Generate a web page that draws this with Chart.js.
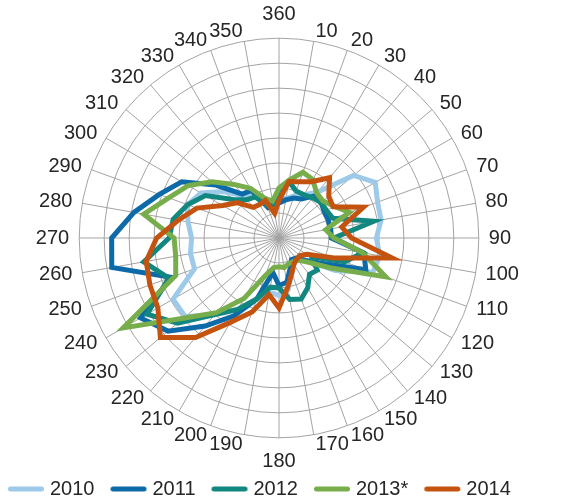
<!DOCTYPE html>
<html>
<head>
<meta charset="utf-8">
<script src="https://cdn.jsdelivr.net/npm/chart.js@4/dist/chart.umd.min.js"></script>
<style>
  html, body { margin: 0; padding: 0; background: #ffffff; }
  #wrap { width: 572px; height: 500px; }
</style>
</head>
<body>
<div id="wrap"><canvas id="c" width="572" height="500"></canvas></div>
<script>
// Compass directions (degrees), clockwise from north
const directions = ['360', '10', '20', '30', '40', '50', '60', '70', '80', '90',
  '100', '110', '120', '130', '140', '150', '160', '170', '180',
  '190', '200', '210', '220', '230', '240', '250', '260', '270',
  '280', '290', '300', '310', '320', '330', '340', '350'];

const seriesNames = ['2010', '2011', '2012', '2013*', '2014'];

const values2010 = [1.6, 1.6, 1.8, 2.0, 2.4, 3.9, 4.45, 4.2, 4.15, 3.9,
  4.1, 4.0, 2.6, 1.4, 1.1, 1.2, 1.5, 2.1, 2.3,
  2.2, 2.6, 3.3, 4.0, 4.9, 4.9, 3.6, 3.6, 3.5,
  3.7, 3.9, 3.6, 2.9, 2.2, 2.1, 1.6, 1.5];

const values2011 = [1.4, 1.55, 1.7, 1.8, 2.2, 2.2, 2.1, 2.1, 2.1, 2.1,
  3.45, 3.7, 2.05, 1.4, 1.05, 1.0, 1.3, 1.8, 1.9,
  1.4, 2.6, 3.6, 4.6, 5.8, 6.4, 4.6, 6.8, 6.7,
  5.9, 5.1, 4.5, 3.3, 2.3, 2.2, 1.3, 1.4];

const values2012 = [1.9, 2.3, 2.0, 2.0, 2.1, 2.2, 2.2, 2.3, 3.85, 2.2,
  3.4, 2.8, 1.5, 2.0, 1.9, 2.3, 2.6, 2.5, 2.0,
  2.0, 2.6, 3.3, 4.0, 5.3, 6.1, 4.7, 5.5, 4.4,
  4.3, 3.9, 3.4, 2.4, 2.0, 1.9, 1.4, 1.35];

const values2013 = [2.0, 2.35, 2.8, 2.7, 2.35, 2.3, 2.55, 3.0, 1.9, 2.2,
  3.4, 4.55, 2.4, 1.5, 1.15, 1.1, 1.1, 1.2, 1.15,
  1.2, 1.6, 2.8, 3.9, 5.0, 7.2, 4.4, 4.2, 4.2,
  5.5, 4.7, 4.2, 3.5, 2.8, 2.3, 1.7, 1.5];

const values2014 = [1.5, 2.3, 2.4, 2.6, 3.15, 2.6, 2.5, 3.6, 2.55, 2.9,
  4.6, 2.35, 1.3, 1.1, 1.1, 1.2, 1.5, 2.0, 2.8,
  2.3, 3.15, 3.9, 5.2, 6.2, 5.6, 5.5, 5.4, 4.9,
  4.1, 3.5, 2.6, 2.2, 1.6, 1.55, 1.6, 1.0];

const seriesValues = [values2010, values2011, values2012, values2013, values2014];
const seriesColors = ['#9ecae9', '#0d6aa8', '#11877f', '#77ad4b', '#c4530f'];

const FONT = '"Liberation Sans", Arial, Helvetica, sans-serif';
const TEXT = '#262626';
const GRID = '#a3a3a3';

// Short rounded stroke used as the legend marker; the canvas is wider than
// the marker so the stroke starts at the left edge of the legend slot.
function legendStroke(color) {
  const c = document.createElement('canvas');
  c.width = 64;
  c.height = 8;
  const g = c.getContext('2d');
  g.strokeStyle = color;
  g.lineWidth = 5;
  g.lineCap = 'round';
  g.beginPath();
  g.moveTo(18.5, 4);
  g.lineTo(49.5, 4);
  g.stroke();
  return c;
}
const legendMarks = seriesColors.map(legendStroke);

const datasets = seriesNames.map((name, i) => ({
  label: name,
  data: seriesValues[i],
  borderColor: seriesColors[i],
  backgroundColor: seriesColors[i],
  borderWidth: 5,
  fill: false,
  pointRadius: 0,
  pointHoverRadius: 0,
  tension: 0,
  order: seriesNames.length - i   // later years drawn on top
}));

new Chart(document.getElementById('c'), {
  type: 'radar',
  data: { labels: directions, datasets },
  options: {
    responsive: false,
    animation: false,
    devicePixelRatio: 1,
    layout: { padding: { top: 15, bottom: -9, left: -8, right: 14 } },
    plugins: {
      tooltip: { enabled: false },
      legend: {
        position: 'bottom',
        align: 'start',
        labels: {
          usePointStyle: true,
          pointStyleWidth: 32,
          padding: 16,
          color: TEXT,
          font: { family: FONT, size: 20 },
          generateLabels(chart) {
            const items = Chart.defaults.plugins.legend.labels.generateLabels(chart);
            items.forEach(it => {
              it.pointStyle = legendMarks[it.datasetIndex];
              it.lineWidth = 0;
            });
            return items.sort((a, b) => a.datasetIndex - b.datasetIndex);
          }
        }
      }
    },
    scales: {
      r: {
        min: 0,
        max: 8,
        ticks: { display: false, stepSize: 1 },
        grid: { circular: true, color: GRID, lineWidth: 1 },
        angleLines: { color: GRID, lineWidth: 1 },
        pointLabels: {
          color: TEXT,
          font: () => ({ family: FONT, size: 20, lineHeight: 0.01 }),
          padding: ctx => (ctx.index === 0 ? 23.5 : ctx.index === 18 ? 24 : 10)
        }
      }
    }
  }
});
</script>
</body>
</html>
